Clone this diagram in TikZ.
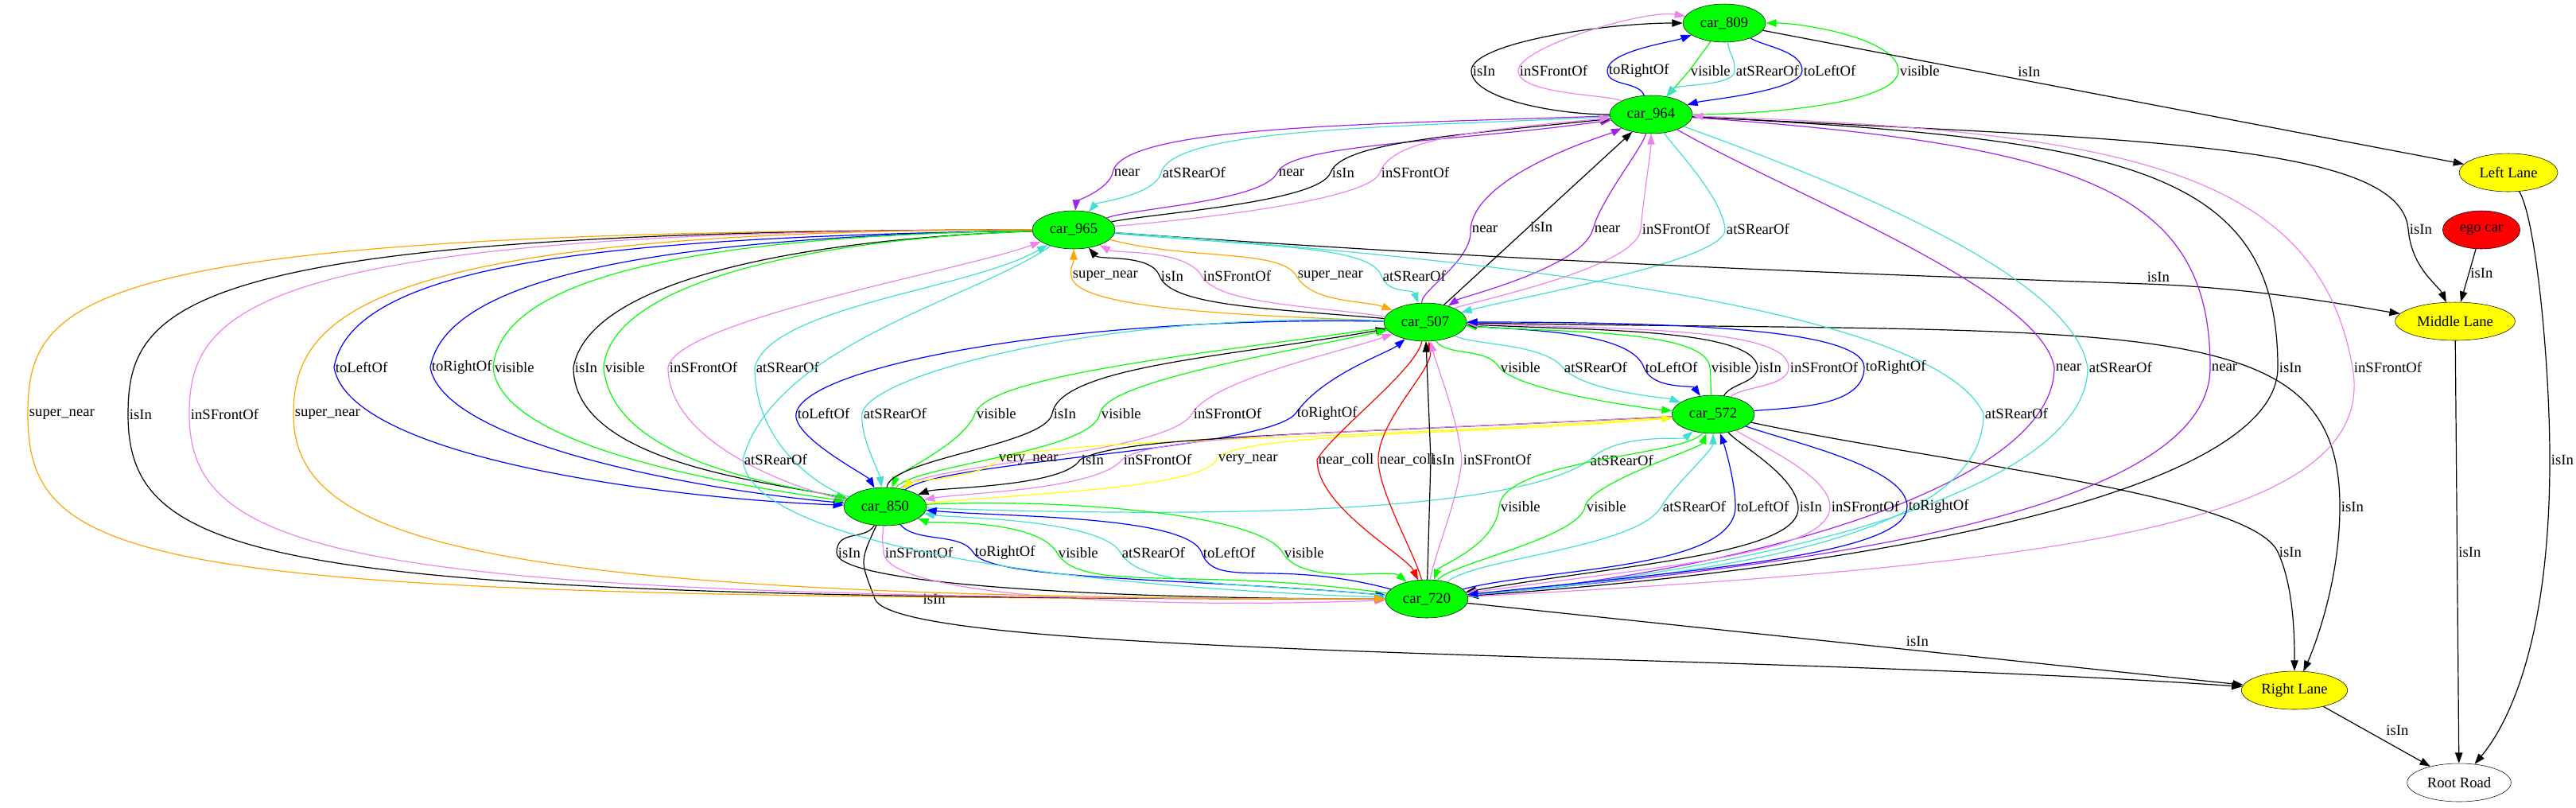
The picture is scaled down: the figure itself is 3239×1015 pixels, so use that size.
\documentclass[tikz,border=0pt]{standalone}
\usepackage{fontspec}
\setmainfont{Liberation Serif}
\usetikzlibrary{shapes.geometric,arrows.meta}
\definecolor{gvgreen}{HTML}{00FF00}
\definecolor{gvblue}{HTML}{0000FF}
\definecolor{gvturq}{HTML}{40E0D0}
\definecolor{gvviolet}{HTML}{EE82EE}
\definecolor{gvpurple}{HTML}{A020F0}
\definecolor{gvorange}{HTML}{FFA500}
\definecolor{gvyellow}{HTML}{FFFF00}
\definecolor{gvred}{HTML}{FF0000}
\tikzset{
  car/.style={ellipse, draw, fill=gvgreen, minimum width=78pt, minimum height=36pt, inner sep=0pt},
  lane/.style={ellipse, draw, fill=gvyellow, minimum height=36pt, inner sep=0pt},
  rel/.style={-{Triangle[length=10pt,width=7pt]}, line width=.9pt},
  eIsIn/.style={rel, black},
  eVisible/.style={rel, gvgreen},
  eLeft/.style={rel, gvblue},
  eRight/.style={rel, gvblue},
  eRear/.style={rel, gvturq},
  eFront/.style={rel, gvviolet},
  eNear/.style={rel, gvpurple},
  eSuper/.style={rel, gvorange},
  eVery/.style={rel, gvyellow},
  eColl/.style={rel, gvred},
  lab/.style={anchor=west, inner sep=1pt}
}
\begin{document}
\begin{tikzpicture}[x=0.75pt,y=0.75pt, every node/.style={font=\fontsize{14}{16}\selectfont, text=black}]
\useasboundingbox (0,0) rectangle (3239,-1015);
\node[car] (c809) at (2168,-29) {car\_809};
\node[car] (c964) at (2076,-144) {car\_964};
\node[car] (c965) at (1350,-289) {car\_965};
\node[car] (c507) at (1792,-405) {car\_507};
\node[car] (c572) at (2154,-521) {car\_572};
\node[car] (c850) at (1113,-637) {car\_850};
\node[car] (c720) at (1794,-753) {car\_720};
\node[lane, minimum width=93pt] (lleft) at (3154,-217) {Left Lane};
\node[ellipse, draw, fill=gvred, minimum width=73pt, minimum height=36pt, inner sep=0pt] (ego) at (3120,-289) {ego car};
\node[lane, minimum width=113pt] (lmid) at (3087,-404) {Middle Lane};
\node[lane, minimum width=100pt] (lright) at (2885,-868) {Right Lane};
\node[ellipse, draw, minimum width=98pt, minimum height=36pt, inner sep=0pt] (road) at (3092,-984) {Root Road};

\draw[eIsIn] (c964) .. controls +(180:120) and +(-90:35) .. (1850,-89) node[lab]{isIn} .. controls +(90:35) and +(180:150) .. (c809);
\draw[eFront] (c964) .. controls +(155:60) and +(-90:30) .. (1909,-89) node[lab]{inSFrontOf} .. controls +(90:30) and +(170:100) .. (c809);
\draw[eRight] (c964) .. controls +(110:45) and +(-90:20) .. (2021,-89) node[lab]{toRightOf} .. controls +(90:25) and +(200:70) .. (c809);
\draw[eVisible] (c809) -- (2124,-89) node[lab]{visible} -- (c964);
\draw[eRear] (c809) .. controls +(-80:45) and +(90:20) .. (2181,-89) node[lab]{atSRearOf} .. controls +(-90:20) and +(50:50) .. (c964);
\draw[eLeft] (c809) .. controls +(-30:60) and +(90:25) .. (2266,-89) node[lab]{toLeftOf} .. controls +(-90:25) and +(15:70) .. (c964);
\draw[eVisible] (c964) .. controls +(0:150) and +(-90:40) .. (2387,-89) node[lab]{visible} .. controls +(90:40) and +(0:100) .. (c809);
\draw[eIsIn] (c809) -- node[pos=.38,above]{isIn} (lleft);

\draw[eNear] (c964) .. controls +(182:350) and +(80:60) .. (1399,-217) node[lab]{near} .. controls +(-100:20) and +(85:35) .. (c965);
\draw[eRear] (c964) .. controls +(183:300) and +(75:60) .. (1460,-217) node[lab]{atSRearOf} .. controls +(-105:30) and +(50:45) .. (c965);
\draw[eNear] (c965) .. controls +(20:80) and +(-115:40) .. (1606,-217) node[lab]{near} .. controls +(65:40) and +(188:250) .. (c964);
\draw[eIsIn] (c965) .. controls +(12:100) and +(-110:40) .. (1673,-217) node[lab]{isIn} .. controls +(70:40) and +(186:250) .. (c964);
\draw[eFront] (c965) .. controls +(5:120) and +(-110:40) .. (1735,-217) node[lab]{inSFrontOf} .. controls +(70:40) and +(185:250) .. (c964);

\draw[eNear] (c507) .. controls +(100:40) and +(-85:40) .. (1849,-288) node[lab]{near} .. controls +(85:70) and +(205:60) .. (c964);
\draw[eIsIn] (c507) -- node[lab,pos=.45]{isIn} (c964);
\draw[eNear] (c964) .. controls +(-105:45) and +(75:40) .. (2003,-288) node[lab]{near} .. controls +(-105:50) and +(35:55) .. (c507);
\draw[eFront] (c507) .. controls +(25:60) and +(-95:50) .. (2063,-288) node[lab]{inSFrontOf} .. controls +(85:40) and +(-90:45) .. (c964);
\draw[eRear] (c964) .. controls +(-55:50) and +(95:40) .. (2169,-288) node[lab]{atSRearOf} .. controls +(-85:40) and +(15:120) .. (c507);

\draw[eSuper] (c507) .. controls +(178:250) and +(-85:40) .. (1347,-347) node[lab]{super\_near} .. controls +(95:15) and +(-90:45) .. (c965);
\draw[eIsIn] (c507) .. controls +(175:200) and +(-70:40) .. (1458,-347) node[lab]{isIn} .. controls +(110:30) and +(-50:50) .. (c965);
\draw[eFront] (c507) .. controls +(172:150) and +(-60:40) .. (1511,-347) node[lab]{inSFrontOf} .. controls +(120:40) and +(-30:60) .. (c965);
\draw[eSuper] (c965) .. controls +(-15:150) and +(120:40) .. (1630,-347) node[lab]{super\_near} .. controls +(-60:40) and +(160:80) .. (c507);
\draw[eRear] (c965) .. controls +(-5:250) and +(110:40) .. (1737,-347) node[lab]{atSRearOf} .. controls +(-70:25) and +(110:45) .. (c507);

\draw[eIsIn] (c965) .. controls +(-4:600) and +(178:400) .. (2698,-357) node[lab,anchor=south west]{isIn} .. controls +(-2:150) and +(172:100) .. (lmid);
\draw[eIsIn] (c964) .. controls +(-3:600) and +(95:110) .. (3028,-288) node[lab]{isIn} .. controls +(-85:50) and +(115:50) .. (lmid);
\draw[eIsIn] (ego) -- node[lab,pos=.45]{isIn} (lmid);
\draw[eIsIn] (lleft) .. controls +(-60:70) and +(90:120) .. (3206,-578) node[lab]{isIn} .. controls +(-90:250) and +(50:80) .. (road);
\draw[eIsIn] (lmid) -- node[lab,pos=.5]{isIn} (road);
\draw[eIsIn] (lright) -- node[pos=.55,above right]{isIn} (road);
\draw[eIsIn] (c720) -- node[pos=.58,above]{isIn} (lright);
\draw[eIsIn] (c850) .. controls +(-115:80) and +(110:50) .. (1100,-753) node[lab,xshift=44pt]{isIn} .. controls +(-70:80) and +(176:700) .. (lright);
\draw[eIsIn] (c572) .. controls +(-12:300) and +(115:80) .. (2864,-694) node[lab]{isIn} .. controls +(-65:50) and +(90:60) .. (lright);
\draw[eIsIn] (c507) .. controls +(-1:900) and +(90:250) .. (2942,-637) node[lab]{isIn} .. controls +(-90:100) and +(65:50) .. (lright);

\draw[eNear] (c964) .. controls +(-30:200) and +(100:100) .. (2583,-462) node[lab]{near} .. controls +(-90:150) and +(5:400) .. (c720);
\draw[eRear] (c964) .. controls +(-20:250) and +(100:120) .. (2625,-462) node[lab]{atSRearOf} .. controls +(-90:150) and +(5:450) .. (c720);
\draw[eNear] (c964) .. controls +(-4:550) and +(90:220) .. (2779,-462) node[lab]{near} .. controls +(-90:180) and +(5:500) .. (c720);
\draw[eIsIn] (c964) .. controls +(-3:600) and +(90:250) .. (2864,-462) node[lab]{isIn} .. controls +(-90:150) and +(4:600) .. (c720);
\draw[eFront] (c720) .. controls +(3:800) and +(-80:200) .. (2958,-462) node[lab]{inSFrontOf} .. controls +(100:250) and +(-2:600) .. (c964);
\draw[eRear] (c965) .. controls +(-4:500) and +(115:150) .. (2494,-520) node[lab]{atSRearOf} .. controls +(-90:150) and +(5:400) .. (c720);

\draw[eVisible] (c507) .. controls +(-60:50) and +(120:30) .. (1885,-462) node[lab]{visible} .. controls +(-50:40) and +(175:80) .. (c572);
\draw[eRear] (c507) .. controls +(-25:70) and +(130:40) .. (1965,-462) node[lab]{atSRearOf} .. controls +(-50:40) and +(160:60) .. (c572);
\draw[eLeft] (c507) .. controls +(-5:120) and +(110:50) .. (2067,-462) node[lab]{toLeftOf} .. controls +(-70:30) and +(125:45) .. (c572);
\draw[eVisible] (c572) .. controls +(95:45) and +(-85:20) .. (2150,-462) node[lab]{visible} .. controls +(95:50) and +(-5:150) .. (c507);
\draw[eIsIn] (c572) .. controls +(60:45) and +(-95:20) .. (2210,-462) node[lab]{isIn} .. controls +(95:50) and +(-3:200) .. (c507);
\draw[eFront] (c572) .. controls +(45:50) and +(-90:25) .. (2249,-462) node[lab]{inSFrontOf} .. controls +(90:50) and +(-2:250) .. (c507);
\draw[eRight] (c572) .. controls +(5:100) and +(-90:50) .. (2344,-462) node[lab]{toRightOf} .. controls +(90:50) and +(0:300) .. (c507);

\draw[eLeft] (c507) .. controls +(179:450) and +(80:60) .. (1001,-520) node[lab]{toLeftOf} .. controls +(-100:30) and +(120:45) .. (c850);
\draw[eRear] (c507) .. controls +(178:400) and +(80:50) .. (1084,-520) node[lab]{atSRearOf} .. controls +(-95:30) and +(100:45) .. (c850);
\draw[eVisible] (c507) .. controls +(188:300) and +(70:50) .. (1226,-520) node[lab]{visible} .. controls +(-110:40) and +(70:45) .. (c850);
\draw[eIsIn] (c850) .. controls +(85:60) and +(-100:40) .. (1323,-520) node[lab]{isIn} .. controls +(80:60) and +(190:250) .. (c507);
\draw[eVisible] (c850) .. controls +(60:60) and +(-100:50) .. (1383,-520) node[lab]{visible} .. controls +(80:40) and +(192:200) .. (c507);
\draw[eFront] (c850) .. controls +(50:70) and +(-120:60) .. (1499,-520) node[lab]{inSFrontOf} .. controls +(60:50) and +(200:100) .. (c507);
\draw[eRight] (c850) .. controls +(40:90) and +(-130:60) .. (1629,-520) node[lab]{toRightOf} .. controls +(55:60) and +(220:60) .. (c507);

\draw[eVery] (c572) .. controls +(184:500) and +(20:80) .. (1254,-578) node[lab]{very\_near} .. controls +(-130:30) and +(45:45) .. (c850);
\draw[eIsIn] (c572) .. controls +(183:500) and +(30:60) .. (1358,-578) node[lab]{isIn} .. controls +(-120:40) and +(20:70) .. (c850);
\draw[eFront] (c572) .. controls +(183:450) and +(40:50) .. (1411,-578) node[lab]{inSFrontOf} .. controls +(-130:50) and +(10:100) .. (c850);
\draw[eVery] (c850) .. controls +(5:200) and +(-120:40) .. (1530,-578) node[lab]{very\_near} .. controls +(60:40) and +(185:300) .. (c572);
\draw[eRear] (c850) .. controls +(-2:500) and +(215:100) .. (1998,-579) node[lab]{atSRearOf} .. controls +(45:50) and +(220:50) .. (c572);

\draw[eColl] (c507) .. controls +(-100:60) and +(60:40) .. (1656,-578) node[lab]{near\_coll} .. controls +(-90:60) and +(115:60) .. (c720);
\draw[eColl] (c720) .. controls +(105:60) and +(-90:40) .. (1733,-578) node[lab]{near\_coll} .. controls +(90:50) and +(-80:60) .. (c507);
\draw[eIsIn] (c720) -- (1799,-578) node[lab]{isIn} -- (c507);
\draw[eFront] (c720) .. controls +(80:60) and +(-95:50) .. (1838,-578) node[lab]{inSFrontOf} .. controls +(95:50) and +(-75:60) .. (c507);

\draw[eVisible] (c572) .. controls +(-120:60) and +(85:60) .. (1885,-637) node[lab]{visible} .. controls +(-95:50) and +(70:45) .. (c720);
\draw[eVisible] (c720) .. controls +(60:50) and +(-100:40) .. (1993,-637) node[lab]{visible} .. controls +(80:30) and +(-110:45) .. (c572);
\draw[eRear] (c720) .. controls +(40:80) and +(-120:60) .. (2089,-637) node[lab]{atSRearOf} .. controls +(60:30) and +(-90:45) .. (c572);
\draw[eLeft] (c720) .. controls +(15:150) and +(-90:80) .. (2182,-637) node[lab]{toLeftOf} .. controls +(90:30) and +(-70:45) .. (c572);
\draw[eIsIn] (c572) .. controls +(-50:50) and +(95:40) .. (2261,-637) node[lab]{isIn} .. controls +(-85:60) and +(10:250) .. (c720);
\draw[eFront] (c572) .. controls +(-35:60) and +(90:40) .. (2301,-637) node[lab]{inSFrontOf} .. controls +(-90:60) and +(8:300) .. (c720);
\draw[eRight] (c572) .. controls +(-20:100) and +(90:50) .. (2398,-637) node[lab]{toRightOf} .. controls +(-90:60) and +(6:350) .. (c720);

\draw[eIsIn] (c850) .. controls +(-120:50) and +(90:30) .. (1052,-695) node[lab]{isIn} .. controls +(-90:40) and +(180:400) .. (c720);
\draw[eFront] (c850) .. controls +(-95:45) and +(95:20) .. (1111,-695) node[lab]{inSFrontOf} .. controls +(-85:50) and +(182:400) .. (c720);
\draw[eRight] (c850) .. controls +(-50:60) and +(120:30) .. (1224,-695) node[lab]{toRightOf} .. controls +(-60:40) and +(175:300) .. (c720);
\draw[eVisible] (c720) .. controls +(172:300) and +(-60:60) .. (1329,-695) node[lab]{visible} .. controls +(120:50) and +(-20:60) .. (c850);
\draw[eRear] (c720) .. controls +(175:250) and +(-60:50) .. (1409,-695) node[lab]{atSRearOf} .. controls +(120:50) and +(-10:80) .. (c850);
\draw[eLeft] (c720) .. controls +(165:200) and +(-70:50) .. (1511,-695) node[lab]{toLeftOf} .. controls +(110:50) and +(-5:150) .. (c850);
\draw[eVisible] (c850) .. controls +(3:200) and +(120:60) .. (1613,-695) node[lab]{visible} .. controls +(-60:50) and +(140:60) .. (c720);

\draw[eLeft] (c965) .. controls +(181:550) and +(80:140) .. (420,-462) node[lab]{toLeftOf} .. controls +(-80:120) and +(178:250) .. (c850);
\draw[eRight] (c965) .. controls +(181:500) and +(80:120) .. (541,-462) node[lab]{toRightOf} .. controls +(-80:100) and +(175:220) .. (c850);
\draw[eVisible] (c965) .. controls +(181:450) and +(85:120) .. (620,-462) node[lab]{visible} .. controls +(-85:100) and +(172:200) .. (c850);
\draw[eIsIn] (c965) .. controls +(182:350) and +(80:110) .. (721,-462) node[lab]{isIn} .. controls +(-90:120) and +(168:150) .. (c850);
\draw[eVisible] (c965) .. controls +(182:320) and +(85:110) .. (759,-462) node[lab]{visible} .. controls +(-85:120) and +(168:130) .. (c850);
\draw[eFront] (c850) .. controls +(170:100) and +(-90:100) .. (840,-462) node[lab]{inSFrontOf} .. controls +(80:60) and +(200:150) .. (c965);
\draw[eRear] (c850) .. controls +(165:80) and +(-90:100) .. (949,-462) node[lab]{atSRearOf} .. controls +(75:80) and +(210:150) .. (c965);
\draw[eRear] (c965) .. controls +(215:150) and +(75:150) .. (934,-578) node[lab]{atSRearOf} .. controls +(-85:100) and +(178:500) .. (c720);

\draw[eSuper] (c965) .. controls +(180:1250) and +(90:150) .. (35,-521) node[lab]{super\_near} .. controls +(-90:200) and +(180:1600) .. (c720);
\draw[eIsIn] (c965) .. controls +(180:1120) and +(90:140) .. (161,-521) node[lab]{isIn} .. controls +(-90:190) and +(180:1450) .. (c720);
\draw[eFront] (c965) .. controls +(180:1040) and +(90:130) .. (238,-521) node[lab]{inSFrontOf} .. controls +(-90:180) and +(180:1350) .. (c720);
\draw[eSuper] (c965) .. controls +(180:900) and +(90:120) .. (369,-521) node[lab]{super\_near} .. controls +(-90:160) and +(180:1200) .. (c720);
\end{tikzpicture}
\end{document}
